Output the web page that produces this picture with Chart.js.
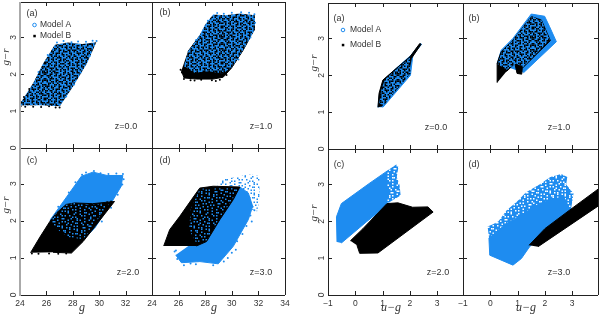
<!DOCTYPE html>
<html>
<head>
<meta charset="utf-8">
<script src="https://cdn.jsdelivr.net/npm/chart.js@4/dist/chart.umd.min.js"></script>
<style>
html, body { margin: 0; padding: 0; background: #fff; }
#page { position: relative; width: 600px; height: 319px; overflow: hidden; }
canvas { position: absolute; }
</style>
</head>
<body>
<div id="page"></div>
<script>
// tick labels
const gTicks = [24, 26, 28, 30, 32];
const gTicksLast = [24, 26, 28, 30, 32, 34];
const ugTicks = [-1, 0, 1, 2, 3];
const grTicks = [0, 1, 2, 3];

// left figure, g vs g-r. The clouds are too dense to read point by point,
// so each is an outline read off the picture plus the stray points around it
const la_cloud = [[24,1.2],[25,1.76],[25.76,2.3],[26.64,2.8],[27.6,2.86],[28.7,2.82],[29.78,2.87],[29.08,2.3],[28.02,1.67],[27.02,1.13],[25.5,1.16],[24,1.15]];
const la_strayA = [[26.8,2.86],[27.3,2.9],[27.9,2.87],[28.4,2.89],[29,2.88],[29.5,2.91],[29.8,2.9],[28.6,2.05],[28.1,1.72],[27.5,1.4],[29.3,2.5],[25.4,2.06],[26.1,2.52]];
const la_strayB = [[24.05,1.13],[24.4,1.12],[25,1.12],[25.6,1.11],[26.2,1.13],[26.7,1.1],[27,1.1],[24.1,1.24],[24.3,1.38],[24.7,1.6]];

const lb_solidB = [[26.21,2.1],[26.41,1.9],[27.34,1.87],[28.6,1.87],[29.35,1.92],[29.98,2.17],[30.4,2.4],[30.86,2.66],[31.3,2.95],[31.2,3.3],[29,3.5],[27.6,3.05],[26.71,2.62]];
const lb_cloud = [[26.4,2.22],[26.71,2.62],[27.6,3.07],[28,3.35],[28.6,3.62],[29.5,3.6],[30.6,3.65],[31.74,3.6],[31.74,3.21],[30.86,2.66],[29.98,2.17],[29.3,2.02],[28.3,2.08],[27.2,2.04]];
const lb_strayA = [[28.9,3.66],[29.4,3.64],[30,3.67],[30.7,3.68],[31.3,3.67],[31.7,3.63],[31.75,3.4],[31.4,3],[30.5,2.4],[28.2,3.45],[27.3,2.92]];
const lb_strayB = [[26.4,1.87],[26.9,1.84],[27.2,1.83],[27.7,1.85],[28.5,1.84],[28.8,1.82],[29.1,1.85],[26.25,2.05],[26.15,2.12],[29.6,1.98]];

const lc_solidA = [[26.26,2.01],[27.65,2.7],[28.65,3.2],[29.53,3.31],[30.6,3.22],[31.79,3.22],[31.67,2.93],[30.91,2.48],[29.66,1.8],[28.78,1.49]];
const lc_solidB = [[24.8,1.14],[25.51,1.56],[26.26,1.98],[26.76,2.21],[27.5,2.44],[28.15,2.48],[29.5,2.46],[31.16,2.52],[29.78,1.89],[28.78,1.44],[27.9,1.13],[26.5,1.15]];
const lc_specks = [[26.3,2],[26.76,2.21],[27.5,2.44],[28.15,2.48],[29.5,2.44],[30.8,2.48],[29.6,1.9],[28.8,1.5],[27.6,1.56],[26.9,1.75]];
const lc_strayA = [[28.7,3.24],[29,3.3],[29.6,3.34],[30.1,3.28],[30.7,3.26],[31.3,3.27],[31.8,3.26],[31.85,3.12],[31.75,2.98],[31.4,2.7],[30.9,2.35],[27.7,2.76],[28.2,3.04],[26.9,2.38],[30.2,1.98]];
const lc_strayB = [[24.9,1.12],[25.4,1.11],[26.2,1.12],[26.9,1.11],[27.5,1.12],[30.9,2.52],[30.6,2.5]];

const ld_solidA = [[25.78,1.08],[26.21,0.87],[27.6,0.9],[28.98,0.84],[30.11,1.31],[31.24,2.03],[31.57,2.39],[31.24,2.75],[30.61,2.91],[28.1,1.44],[26.84,1.35]];
const ld_solidB = [[24.88,1.32],[25.33,1.76],[26.09,2.12],[26.97,2.57],[27.59,2.88],[28.6,2.93],[30.61,2.91],[30.11,2.57],[29.1,2.03],[28.1,1.44],[27.34,1.32]];
const ld_specks = [[27.6,2.86],[30.5,2.88],[30,2.55],[29,2.02],[28.1,1.46],[27.3,1.42],[26.8,1.75],[26.9,2.3]];
const ld_sparse = [[28.9,2.95],[29,3.1],[30,3.16],[31.4,3.25],[32.1,3.2],[32.1,2.6],[31.9,2.25],[31.5,2.3],[31.2,2.75],[30.61,2.93]];
const ld_strayA = [[31.7,2.28],[31.4,2.14],[31.5,1.98],[31.1,1.86],[30.8,1.64],[30.4,1.45],[30,1.14],[29.4,0.9],[28.6,0.8],[27.3,0.83],[26.4,0.8],[25.9,0.97],[25.7,1.17],[30.3,1.22],[29.7,1],[26.9,0.85],[25.8,1.2]];

// right figure, u-g vs g-r
const ra_solidA = [[0.83,1.13],[0.89,1.51],[1.04,1.87],[1.5,2.19],[2.05,2.55],[2.38,2.86],[2.43,2.84],[2.11,2.55],[2.02,2],[1.01,1.13]];
const ra_solidB = [[0.83,1.13],[0.87,1.51],[1.01,1.87],[1.46,2.16],[2,2.5],[2.36,2.86],[2.41,2.84],[2.05,2.45],[1.95,2.06],[0.95,1.15]];
const ra_specks = [[0.88,1.25],[0.95,1.6],[1.08,1.88],[1.5,2.17],[2,2.48],[2.02,2.05],[1.03,1.17]];

const rb_solidA = [[0.25,2.32],[0.4,2.68],[0.83,3],[1.5,3.66],[1.99,3.6],[2.17,3.32],[2.42,2.91],[1.22,2.07]];
const rb_solidB = [[0.25,1.8],[0.25,2.32],[0.4,2.64],[0.83,2.95],[1.5,3.59],[1.87,3.5],[2.2,2.94],[1.17,2.19],[1.15,2.03],[0.98,2.05],[0.9,2.32],[0.59,2.1]];
const rb_specks = [[0.27,2.3],[0.41,2.64],[0.84,2.96],[1.5,3.6],[1.87,3.5],[2.18,2.96],[1.2,2.22],[0.95,2.32],[0.6,2.15]];

const rc_solidA = [[-0.67,1.44],[-0.69,2.12],[-0.51,2.48],[0.5,3.02],[1.2,3.38],[1.2,2.46],[0.4,1.98],[-0.51,1.41]];
const rc_rim = [[1.15,3.36],[1.5,3.54],[1.58,3.48],[1.52,3.2],[1.62,3],[1.66,2.7],[1.26,2.52],[1.15,2.44]];
const rc_solidB = [[-0.18,1.47],[0.28,1.8],[1.16,2.48],[1.56,2.5],[2.1,2.38],[2.66,2.39],[2.85,2.25],[0.83,1.14],[0.16,1.13],[0.06,1.35]];

const rd_solidA = [[-0.05,1.55],[-0.02,1.08],[0.83,0.81],[1.14,0.99],[1.44,1.31],[2.91,2.3],[2.7,2.65],[2.2,2.6],[1.6,2.4],[1,2.1],[0.5,1.9]];
const rd_rim = [[-0.1,1.86],[0.1,1.92],[0.3,2],[0.6,2.3],[1,2.55],[1.3,2.78],[1.8,3],[2.2,3.2],[2.6,3.28],[2.82,3.2],[2.78,3],[3.05,2.75],[2.95,2.3],[2.2,2.2],[1,1.9],[0,1.3]];
const rd_solidB = [[1.42,1.35],[2,1.8],[2.9,2.3],[3.945,2.87],[3.945,2.41],[1.75,1.31]];

const blue = '#1e8cf0';
const black = '#000000';

// grain of the mixed clouds, one character per small cell
const mixBits = [
  '##..#.###...##.#..##.###..#.##', '#..##..#..#.#..##.#....#.##..#', '.###..##.##...#.#..###.#...##.', '..#.#....#.###..#.#..#..##.#..',
  '#..###.#..#..#.##...##.#..#..#', '##.#...##...##..#.##....###.##', '.#..##.#.###..#...#..##.#...#.', '..##.#..#..#.##.##.#.#...#.#..',
  '#.#...##.#....#..#...##.##..##', '###.#.#..##.#..##.###..#..#.#.', '.#..##...#..###.#..#.#...##..#', '..#..#.###.#....##...###.#..##',
  '##.##..#...##.#..#.#..#...#.#.', '#...#.##.#..#..##..##...##.#..', '.##..#..###...#.#.#..#.#..###.', '#.#.##.#..#.##...##.##..#...##',
  '..#..#...##.#.##..#...#.##.#..', '##..#.##.#...#..#...###.#..#.#', '#.##...#..###..##.#..#...##..#', '..#.#.##.#...#..#.##.##.#..#..',
  '.##...#..##.#.##.....#..##.###', '#..###.#...#...#.###..#..#..#.', '##..#..##.#.##.#..#.##.#...#..', '.#.#.##...#..#...##..#..###.##',
];
const sparseBits = [
  '#....#.....##....#...#....#...', '..#.....#......#.....#.#.....#', '.....##....#.#....#.......#...', '.#.......#.....#....##..#.....',
  '...#..#.......#..#.......#..#.', '#.......##.#.......#.#.......#', '..##.......#..#.#........##...', '.....#.#........#..#.#.......#',
  '.#.......#..##.......#..#.#...', '...#.#.......#..#.......#.....', '#......#.#........#.##....#.#.', '..#.........#..#.......#......',
  '....##..#.......#.#.......#..#', '#.........#.##.......#.#......', '..#..#.#.........#.#.......##.', '.......#....#.#.......#.#.....',
  '.#.#.....#.......#..#......#..', '....#.......##.#.......#.....#', '#.....#.#.........#.#.....#...', '...#.......#.#.#.......#......',
  '.#....##.......#....#.....##..', '......#...#........#...#.....#', '..##.......#.#..#.......#.#...', '#.....#.#.........#.#.........',
];

function makePattern(bits, onColor, offColor) {
  const cell = 1.5;
  const tile = document.createElement('canvas');
  tile.width = bits[0].length * cell;
  tile.height = bits.length * cell;
  const c = tile.getContext('2d');
  if (offColor) {
    c.fillStyle = offColor;
    c.fillRect(0, 0, tile.width, tile.height);
  }
  c.fillStyle = onColor;
  bits.forEach((row, j) => {
    for (let i = 0; i < row.length; i++) {
      if (row[i] === '#') c.fillRect(i * cell, j * cell, cell, cell);
    }
  });
  return c.createPattern(tile, 'repeat');
}

const mixed = makePattern(mixBits, black, blue);
const blueSpecks = makePattern(sparseBits, blue, null);
const whiteOnBlue = makePattern(sparseBits, '#ffffff', blue);

// pixel boxes of the panels, and the little texts in them
const panels = [
  { box: [20, 2, 152, 148], xr: [24, 34], xLabels: null, yLabels: grTicks, xMarks: gTicksLast, greyLeft: true, tag: '(a)', tagAt: [32, 14], z: 'z=0.0', zAt: [126, 127],
    layers: [[la_cloud, mixed, 'shape'], [la_strayB, black, 'dots'], [la_strayA, blue, 'dots']], legend: [34.5, 25, 36, 40], yTitle: [6, 57] },
  { box: [152, 2, 285, 148], xr: [24, 34], xLabels: null, yLabels: null, xMarks: gTicksLast, tag: '(b)', tagAt: [165, 13], z: 'z=1.0', zAt: [261, 127],
    layers: [[lb_solidB, black, 'shape'], [lb_cloud, mixed, 'shape'], [lb_strayB, black, 'dots'], [lb_strayA, blue, 'dots']] },
  { box: [20, 148, 152, 295], xr: [24, 34], xLabels: gTicks, yLabels: grTicks, xMarks: gTicksLast, greyLeft: true, tag: '(c)', tagAt: [32, 161], z: 'z=2.0', zAt: [128, 273],
    layers: [[lc_solidA, blue, 'shape'], [lc_strayA, blue, 'dots'], [lc_solidB, black, 'shape'], [lc_strayB, black, 'dots'], [lc_specks, blueSpecks, 'shape']], yTitle: [6, 205], xTitle: ['g', 82, 308] },
  { box: [152, 148, 285, 295], xr: [24, 34], xLabels: gTicksLast, yLabels: null, xMarks: gTicksLast, tag: '(d)', tagAt: [165, 161], z: 'z=3.0', zAt: [261, 273],
    layers: [[ld_solidA, blue, 'shape'], [ld_strayA, blue, 'dots'], [ld_sparse, blueSpecks, 'shape'], [ld_solidB, black, 'shape'], [ld_specks, blueSpecks, 'shape']], xTitle: ['g', 214, 308] },
  { box: [328, 3, 463, 149], xr: [-1, 3.945], xLabels: null, yLabels: grTicks, xMarks: ugTicks, tag: '(a)', tagAt: [339, 19], z: 'z=0.0', zAt: [436, 128],
    layers: [[ra_solidA, blue, 'shape'], [ra_solidB, black, 'shape'], [ra_specks, mixed, 'shape']], legend: [343, 30, 45, 350], yTitle: [314, 63] },
  { box: [463, 3, 598, 149], xr: [-1, 3.945], xLabels: null, yLabels: null, xMarks: ugTicks, tag: '(b)', tagAt: [474, 19], z: 'z=1.0', zAt: [559, 128],
    layers: [[rb_solidA, blue, 'shape'], [rb_solidB, black, 'shape'], [rb_specks, mixed, 'shape']] },
  { box: [328, 149, 463, 295], xr: [-1, 3.945], xLabels: ugTicks, yLabels: grTicks, xMarks: ugTicks, tag: '(c)', tagAt: [339, 165], z: 'z=2.0', zAt: [438, 273],
    layers: [[rc_solidA, blue, 'shape'], [rc_rim, whiteOnBlue, 'shape'], [rc_solidB, black, 'shape']], yTitle: [314, 213], xTitle: ['u\u2212g', 391, 308] },
  { box: [463, 149, 598, 295], xr: [-1, 3.945], xLabels: ugTicks, yLabels: null, xMarks: ugTicks, tag: '(d)', tagAt: [474, 165], z: 'z=3.0', zAt: [559, 273],
    layers: [[rd_rim, whiteOnBlue, 'shape'], [rd_solidA, blue, 'shape'], [rd_solidB, black, 'shape']], xTitle: ['u\u2212g', 526, 308] },
];

const marginL = 20, marginR = 8, marginT = 2, marginB = 24;
const ink = '#333333';
const labelFont = { family: '"Liberation Sans", Arial, sans-serif', size: 8.5 };

// frame, inward ticks and the texts inside a panel
const panelDecor = {
  id: 'panelDecor',
  afterDraw(chart, args, opts) {
    const p = opts.panel;
    const ctx = chart.ctx;
    const { left, right, top, bottom } = chart.chartArea;
    const dx = left - p.box[0], dy = top - p.box[1];
    ctx.save();
    ctx.strokeStyle = '#222222';
    ctx.lineWidth = 1;
    ctx.beginPath();
    ctx.moveTo(left, top + 0.5); ctx.lineTo(right, top + 0.5);
    ctx.moveTo(left, bottom + 0.5); ctx.lineTo(right, bottom + 0.5);
    ctx.moveTo(right + 0.5, top); ctx.lineTo(right + 0.5, bottom);
    if (!p.greyLeft) { ctx.moveTo(left + 0.5, top); ctx.lineTo(left + 0.5, bottom); }
    p.xMarks.forEach(v => {
      if (v <= p.xr[0] || v >= p.xr[1]) return;
      const x = Math.round(chart.scales.x.getPixelForValue(v)) + 0.5;
      ctx.moveTo(x, top); ctx.lineTo(x, top + 4);
      ctx.moveTo(x, bottom); ctx.lineTo(x, bottom - 4);
    });
    grTicks.forEach(v => {
      if (v === 0) return;
      const y = Math.round(chart.scales.y.getPixelForValue(v)) + 0.5;
      ctx.moveTo(left, y); ctx.lineTo(left + 4, y);
      ctx.moveTo(right, y); ctx.lineTo(right - 4, y);
    });
    ctx.stroke();
    if (p.greyLeft) {
      ctx.strokeStyle = '#aaaaaa';
      ctx.lineWidth = 2;
      ctx.beginPath();
      ctx.moveTo(left, top); ctx.lineTo(left, bottom + 1);
      ctx.stroke();
    }
    ctx.fillStyle = ink;
    ctx.textAlign = 'center';
    ctx.textBaseline = 'middle';
    ctx.font = '9px "Liberation Sans", Arial, sans-serif';
    ctx.fillText(p.tag, p.tagAt[0] + dx, p.tagAt[1] + dy);
    ctx.fillText(p.z, p.zAt[0] + dx, p.zAt[1] + dy);
    if (p.legend) {
      const [mx, ya, yb, tx] = p.legend;
      ctx.textAlign = 'left';
      ctx.font = '8.5px "Liberation Sans", Arial, sans-serif';
      ctx.fillText('Model A', tx + dx, ya + dy);
      ctx.fillText('Model B', tx + dx, yb + dy);
      ctx.strokeStyle = blue;
      ctx.lineWidth = 1;
      ctx.beginPath();
      ctx.arc(mx + dx, ya + dy, 1.8, 0, Math.PI * 2);
      ctx.stroke();
      ctx.fillStyle = black;
      ctx.fillRect(mx + dx - 1.2, yb + dy - 1.2, 2.5, 2.5);
      ctx.fillStyle = ink;
    }
    ctx.textAlign = 'center';
    if (p.xTitle) {
      ctx.font = 'italic 12px "Liberation Serif", serif';
      ctx.fillText(p.xTitle[0], p.xTitle[1] + dx, p.xTitle[2] + dy);
    }
    if (p.yTitle) {
      ctx.font = 'italic 11px "Liberation Serif", serif';
      ctx.translate(p.yTitle[0] + dx, p.yTitle[1] + dy);
      ctx.rotate(-Math.PI / 2);
      ctx.fillText('g\u2212r', 0, 0);
    }
    ctx.restore();
  },
};

function noScalePadding(s) {
  s.paddingTop = 0;
  s.paddingBottom = 0;
  s.paddingLeft = 0;
  s.paddingRight = 0;
}

function makePanel(p) {
  const canvas = document.createElement('canvas');
  const w = p.box[2] - p.box[0] + marginL + marginR;
  const h = p.box[3] - p.box[1] + marginT + marginB;
  canvas.style.left = (p.box[0] - marginL) + 'px';
  canvas.style.top = (p.box[1] - marginT) + 'px';
  canvas.width = w;
  canvas.height = h;
  document.getElementById('page').appendChild(canvas);

  const datasets = p.layers.map((layer, i) => {
    const isShape = layer[2] === 'shape';
    const plain = typeof layer[1] === 'string';
    return {
      data: layer[0].map(pt => ({ x: pt[0], y: pt[1] })),
      order: p.layers.length - i,
      backgroundColor: layer[1],
      borderColor: plain ? layer[1] : 'rgba(0,0,0,0)',
      showLine: isShape,
      fill: isShape ? 'shape' : false,
      borderWidth: isShape && plain ? 1 : 0,
      pointRadius: isShape ? 0 : 1,
      tension: 0,
    };
  });

  new Chart(canvas, {
    type: 'scatter',
    data: { datasets: datasets },
    plugins: [panelDecor],
    options: {
      responsive: false,
      animation: false,
      layout: { autoPadding: false, padding: { top: marginT, right: marginR } },
      plugins: { legend: { display: false }, tooltip: { enabled: false }, panelDecor: { panel: p } },
      scales: {
        x: {
          type: 'linear', min: p.xr[0], max: p.xr[1],
          grid: { display: false, drawTicks: false }, border: { display: false },
          afterBuildTicks: s => { s.ticks = (p.xLabels || []).map(v => ({ value: v })); },
          afterFit: s => { s.height = marginB; noScalePadding(s); },
          ticks: {
            display: !!p.xLabels, autoSkip: false, maxRotation: 0, padding: 4, color: ink, font: labelFont,
            callback: v => String(v).replace('-', '\u2212'),
          },
        },
        y: {
          type: 'linear', min: 0, max: 3.96,
          grid: { display: false, drawTicks: false }, border: { display: false },
          afterBuildTicks: s => { s.ticks = (p.yLabels || []).map(v => ({ value: v })); },
          afterFit: s => { s.width = marginL; noScalePadding(s); },
          ticks: {
            display: !!p.yLabels, autoSkip: false, minRotation: 90, maxRotation: 90, padding: 4, crossAlign: 'center', color: ink, font: labelFont,
          },
        },
      },
    },
  });
}

panels.forEach(makePanel);
</script>
</body>
</html>
